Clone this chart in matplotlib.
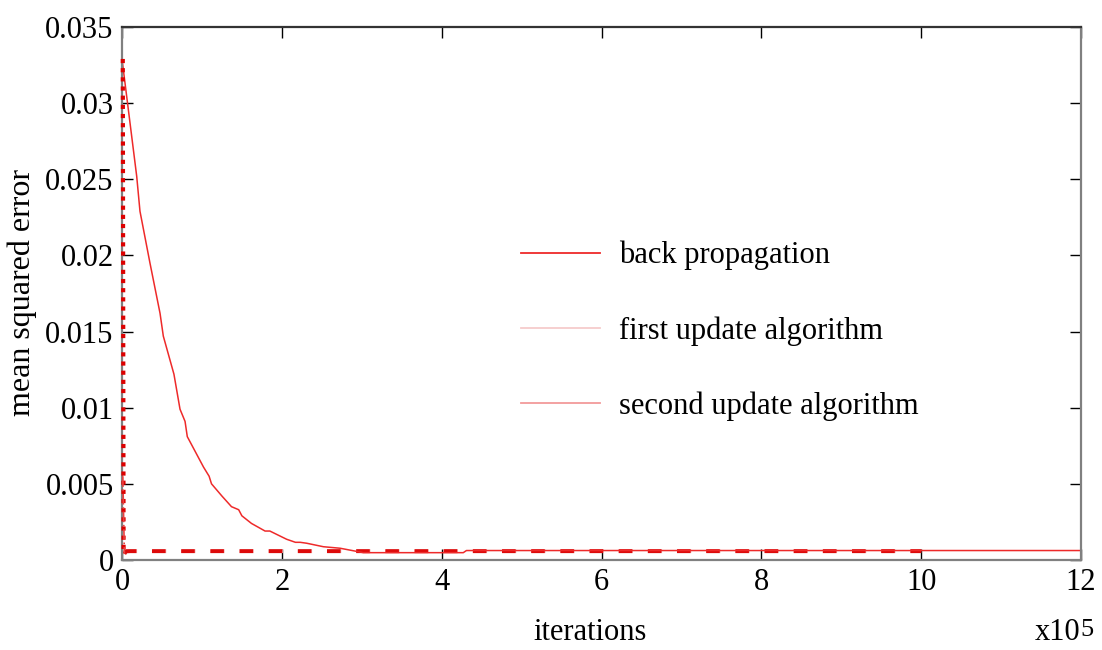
#!/usr/bin/env python3
import matplotlib
matplotlib.use("Agg")
import matplotlib.pyplot as plt
from matplotlib.lines import Line2D

plt.rcParams['font.family'] = ['Liberation Serif', 'DejaVu Serif']

# iterations in units of 1e5
bp_x = [0, 0.184, 0.225, 0.35, 0.476, 0.517, 0.65, 0.726, 0.789, 0.817,
        1.02, 1.09, 1.12, 1.25, 1.37, 1.46, 1.50, 1.62, 1.79, 1.85,
        2.06, 2.17, 2.23, 2.31, 2.52, 2.73, 3.02, 4.27, 4.31, 12]
bp_y = [0.0329, 0.0252, 0.0229, 0.0195, 0.0162, 0.0147, 0.0122, 0.0099, 0.0091, 0.0081,
        0.0061, 0.0055, 0.0050, 0.0042, 0.0035, 0.0033, 0.0029, 0.0024, 0.0019, 0.0019,
        0.00136, 0.00116, 0.00116, 0.0011, 0.00087, 0.00077, 0.00048, 0.00048, 0.00062, 0.00062]

first_x = [0.01, 0.02, 0.1, 10]
first_y = [0.0329, 0.0005, 0.00058, 0.00058]

second_x = [0.01, 0.03, 0.05, 10]
second_y = [0.0055, 0.0004, 0.00058, 0.00058]

labels = ['back propagation', 'first update algorithm', 'second update algorithm']
legend_colors = ['#ee2a2a', '#f6cccc', '#f29a9a']

fig = plt.figure(figsize=(11.02, 6.5), dpi=100)
ax = fig.add_axes([0.1107, 0.1385, 0.981 - 0.1107, 0.9585 - 0.1385])

# first update: dotted drop, then dashed plateau
ax.plot(first_x[:2], first_y[:2], color='#dd0000', linestyle=(0, (1, 1.2)),
        linewidth=3, zorder=3, clip_on=False)
ax.plot(first_x[1:], first_y[1:], color='#f3b0b0', linestyle=(0, (3.5, 4)), linewidth=2.8)
# second update: dash-dot drop, then dashed plateau
ax.plot(second_x[:2], second_y[:2], color='#e84040', linestyle='-.', linewidth=1.2, zorder=3)
ax.plot(second_x[1:], second_y[1:], color='#dd0a0a', linestyle=(0, (3.5, 4)), linewidth=2.8)
ax.plot(bp_x, bp_y, color='#ee2a2a', linewidth=1.1)

ax.set_xlim(0, 12)
ax.set_ylim(0, 0.035)
ax.set_xticks(range(0, 13, 2))
ax.set_yticks([0, 0.005, 0.01, 0.015, 0.02, 0.025, 0.03, 0.035])
ax.set_yticklabels(['0', '0.005', '0.01', '0.015', '0.02', '0.025', '0.03', '0.035'])
ax.tick_params(direction='in', length=8, width=1, labelsize=22, right=True, top=True, pad=6)
for s in ax.spines.values():
    s.set_color('#808080')
    s.set_linewidth(1.6)
ax.spines['top'].set_color('#333333')

fig.text(590 / 1102, 1 - 633 / 650, 'iterations', fontsize=22, ha='center', va='center')
fig.text(1035 / 1102, 1 - 633 / 650, 'x10', fontsize=22, ha='left', va='center')
fig.text(1080 / 1102, 1 - 630 / 650, '5', fontsize=19, ha='left', va='center')
fig.text(22 / 1102, 1 - 292 / 650, 'mean squared error', fontsize=23, rotation=90,
         ha='center', va='center')

handles = [Line2D([], [], color=c, linewidth=1.3) for c in legend_colors]
ax.legend(handles, labels, loc='center left', bbox_to_anchor=(521 / 1102, 1 - 331 / 650),
          bbox_transform=fig.transFigure, frameon=False, fontsize=22, borderpad=0,
          borderaxespad=0, handlelength=2.6, handletextpad=0.6, labelspacing=1.5)

fig.savefig('out.png', dpi=100)
